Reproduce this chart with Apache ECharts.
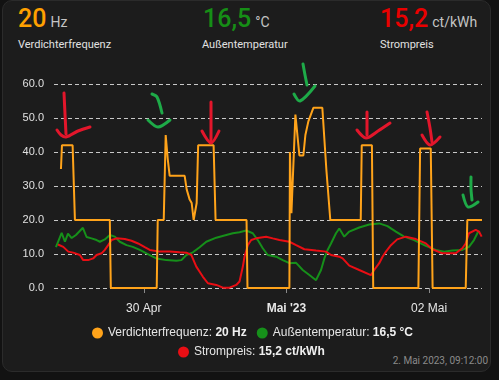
<!DOCTYPE html>
<html><head><meta charset="utf-8">
<script src="https://cdn.jsdelivr.net/npm/echarts@6/dist/echarts.min.js"></script>
<style>
html,body{margin:0;padding:0;background:#121212;width:499px;height:380px;overflow:hidden;}
#card{position:absolute;left:2px;top:0px;width:489px;height:372px;background:#1c1c1c;border:1px solid #2b2b2b;border-radius:10px;box-sizing:border-box;}
.hdr{position:absolute;top:6px;font-family:Roboto,sans-serif;line-height:25px;white-space:nowrap;}
.num{font-size:25px;font-weight:500;}
.unit{font-size:14px;color:#c4c4c4;margin-left:4px;}
.lbl{position:absolute;top:39px;font-family:Roboto,sans-serif;font-size:11px;line-height:11px;color:#e1e1e1;white-space:nowrap;}
#ts{position:absolute;right:11px;top:356px;font-family:Roboto,sans-serif;font-size:10px;line-height:10px;color:#8a8a8a;}
#chart{position:absolute;left:0;top:0;width:499px;height:380px;}
</style></head>
<body>
<div id="card"></div>
<div class="hdr" style="left:18px"><span class="num" style="color:#ffa000">20</span><span class="unit">Hz</span></div>
<div class="lbl" style="left:18px">Verdichterfrequenz</div>
<div class="hdr" style="left:203px"><span class="num" style="color:#168e16">16,5</span><span class="unit">°C</span></div>
<div class="lbl" style="left:202px">Außentemperatur</div>
<div class="hdr" style="left:380px"><span class="num" style="color:#ea0000">15,2</span><span class="unit">ct/kWh</span></div>
<div class="lbl" style="left:380px">Strompreis</div>
<div id="ts">2. Mai 2023, 09:12:00</div>
<div id="chart"></div>
<script>
// ---- data (x = hours relative to 30 Apr 2023 00:00) ----
const seriesNames = ['Verdichterfrequenz', 'Außentemperatur', 'Strompreis'];
const currentValues = ['20 Hz', '16,5 °C', '15,2 ct/kWh'];
const yTicks = [0, 10, 20, 30, 40, 50, 60];
const dayTickHours = [0, 24, 48];
const dayTickLabels = ['30 Apr', "Mai '23", '02 Mai'];

const freqHours = [-13.93,-13.76,-11.97,-11.58,-5.71,-5.54,2.18,2.35,3.36,3.69,4.03,4.36,6.88,7.22,7.72,8.06,8.39,8.90,9.15,11.75,12.08,17.29,17.45,24.50,24.59,24.84,25.51,26.18,26.85,27.19,27.69,28.53,30.04,30.71,31.38,36.50,36.67,38.38,38.60,46.20,46.49,48.28,48.59,54.16,54.43,56.90];
const freqValues = [35,42,42,20,20,0,0,20,20,45,38,33,33,29,26,25,20,25,42,42,20,20,0,0,40,22,51,39,39,45,49,53,53,35,20,20,42,42,0,0,41,41,0,0,20,20];

const tempHours = [-14.77,-13.81,-13.26,-12.75,-12.13,-11.41,-10.24,-9.62,-8.78,-7.94,-7.38,-6.55,-5.71,-4.87,-4.03,-2.90,-1.85,-0.67,1.01,2.13,3.81,5.49,6.33,7.17,8.27,9.40,10.52,12.20,13.88,14.99,16.11,17.24,18.34,19.18,20.02,20.86,22.27,23.38,24.50,25.63,26.74,27.86,28.98,29.82,30.38,30.93,31.50,32.34,32.89,33.73,34.57,36.25,37.93,39.61,41.00,42.41,43.80,45.48,47.45,49.12,50.52,51.91,53.59,54.71,55.55,56.27,56.56];
const tempValues = [12.0,16.2,13.6,16.0,14.7,15.6,17.7,15.0,14.6,14.1,13.6,14.3,15.6,15.1,13.6,12.6,12.1,11.2,9.7,8.7,8.2,8.0,8.2,9.7,10.5,12.0,13.6,14.8,15.6,16.1,16.4,16.9,16.1,14.1,11.7,9.7,9.2,8.2,7.3,7.4,5.3,3.8,2.3,5.3,8.7,11.2,13.1,16.1,17.5,15.1,16.6,17.8,18.7,19.0,18.2,16.6,15.1,14.1,12.4,11.2,10.7,11.0,11.2,12.1,14.1,16.6,16.5];

const priceHours = [-14.43,-13.54,-12.70,-11.87,-10.74,-10.19,-9.35,-8.51,-7.94,-7.10,-6.55,-5.99,-5.42,-4.58,-3.19,-2.06,-0.96,0.17,1.01,2.69,4.36,6.04,7.17,8.01,8.84,9.40,9.95,10.79,12.20,13.31,14.43,15.56,16.11,16.67,16.95,17.50,18.08,18.91,20.59,21.70,22.82,24.50,25.63,27.02,28.98,30.66,31.50,32.89,33.45,34.57,36.25,38.21,38.77,39.61,40.17,40.74,41.58,42.63,44.09,45.77,47.45,48.55,50.23,52.48,53.59,54.15,54.71,55.84,56.39,56.84];
const priceValues = [12.8,12.1,10.7,10.4,9.7,8.2,8.2,8.7,9.7,10.2,11.2,12.6,14.1,14.6,14.4,13.9,13.1,12.0,11.2,10.7,10.7,10.5,10.4,9.7,6.3,4.8,3.3,1.4,0.9,0.1,0.1,0.9,1.9,6.3,9.2,12.6,14.1,14.6,15.1,14.6,14.1,13.6,12.6,11.4,11.0,10.7,9.7,9.2,8.7,6.6,5.3,3.8,5.3,7.3,9.2,10.7,12.6,14.3,15.1,14.4,13.1,11.4,10.2,10.2,11.7,13.1,16.1,17.1,16.6,15.1];

const rangeStartHours = -15.1;
const rangeEndHours = 56.9;

// ---- hand-drawn annotation strokes (overlay) ----
const redStrokes = [
  [[64,93],[65,114],[66,134]], [[57,130],[61,135],[66,137],[78,131],[90,127]],
  [[211,102],[211,122],[211,142]], [[202,131],[211,143],[219,131]],
  [[367,112],[367,124],[367,135]], [[357,130],[366,138],[378,131],[390,123]],
  [[427,112],[430,128],[432,142]], [[422,135],[430,145],[440,137]]
];
const greenStrokes = [
  [[152,94],[157,97],[162,113]], [[148,120],[158,127],[170,120]],
  [[303,64],[305,75],[307,85]], [[294,94],[300,101],[315,86]],
  [[471,177],[471,189],[472,200]], [[463,195],[468,207],[478,202]]
];

// ---- build ----
const pairs = (hs, vs) => hs.map((h, i) => [h, vs[i]]);

const COLORS = ['#ffa31a', '#16901a', '#e90e14'];
const FONT = '"Liberation Sans", Arial, sans-serif';

const legendFmt = name => {
  const i = seriesNames.indexOf(name);
  return '{n|' + name + ': }{b|' + currentValues[i] + '}';
};
const legendText = {
  color: '#e6e6e6', fontSize: 12, fontFamily: FONT,
  rich: {
    n: { color: '#e6e6e6', fontSize: 12, fontFamily: FONT },
    b: { color: '#f0f0f0', fontSize: 12, fontFamily: FONT, fontWeight: 'bold' }
  }
};

const graphics = [];
redStrokes.forEach(p => graphics.push({type:'polyline', z: 100, shape:{points:p, smooth:0.3}, style:{stroke:'#e3162b', lineWidth:3, lineCap:'round', lineJoin:'round', fill:null}}));
greenStrokes.forEach(p => graphics.push({type:'polyline', z: 100, shape:{points:p, smooth:0.3}, style:{stroke:'#1eaa48', lineWidth:3, lineCap:'round', lineJoin:'round', fill:null}}));

const chart = echarts.init(document.getElementById('chart'), null, {renderer: 'canvas'});
chart.setOption({
  backgroundColor: 'transparent',
  animation: false,
  grid: { left: 54, right: 17, top: 84, bottom: 92 },
  xAxis: {
    type: 'value',
    min: rangeStartHours, max: rangeEndHours,
    axisLine: { show: false },
    axisTick: { show: true, customValues: dayTickHours, length: 5, lineStyle: { color: '#8a8a8a', width: 1 } },
    axisLabel: {
      customValues: dayTickHours, margin: 15, color: '#e6e6e6', fontSize: 12, fontFamily: FONT,
      formatter: v => { const i = dayTickHours.indexOf(v); const t = i >= 0 ? dayTickLabels[i] : ''; return i === 1 ? '{b|' + t + '}' : t; },
      rich: { b: { fontWeight: 'bold', color: '#e6e6e6', fontSize: 12, fontFamily: FONT } }
    },
    splitLine: { show: false }
  },
  yAxis: {
    type: 'value', min: yTicks[0], max: yTicks[yTicks.length-1], interval: 10,
    axisLine: { show: false }, axisTick: { show: false },
    axisLabel: { margin: 10, color: '#e0e0e0', fontSize: 11, fontFamily: FONT, formatter: v => v.toFixed(1) },
    splitLine: { show: true, lineStyle: { color: '#c8c8c8', type: [4, 3], width: 1 } }
  },
  legend: [
    { data: [seriesNames[0], seriesNames[1]], left: 87, top: 322, icon: 'circle', itemWidth: 11, itemHeight: 11, itemGap: 10, formatter: legendFmt, textStyle: legendText, selectedMode: false },
    { data: [seriesNames[2]], left: 173, top: 341, icon: 'circle', itemWidth: 11, itemHeight: 11, formatter: legendFmt, textStyle: legendText, selectedMode: false }
  ],
  series: [
    { name: seriesNames[0], type: 'line', z: 4, showSymbol: false, data: pairs(freqHours, freqValues), color: COLORS[0], lineStyle: { width: 2, color: COLORS[0] } },
    { name: seriesNames[1], type: 'line', z: 3, showSymbol: false, data: pairs(tempHours, tempValues), color: COLORS[1], lineStyle: { width: 2, color: COLORS[1] } },
    { name: seriesNames[2], type: 'line', z: 3, showSymbol: false, data: pairs(priceHours, priceValues), color: COLORS[2], lineStyle: { width: 2, color: COLORS[2] } }
  ],
  graphic: graphics
});
</script>
</body></html>
